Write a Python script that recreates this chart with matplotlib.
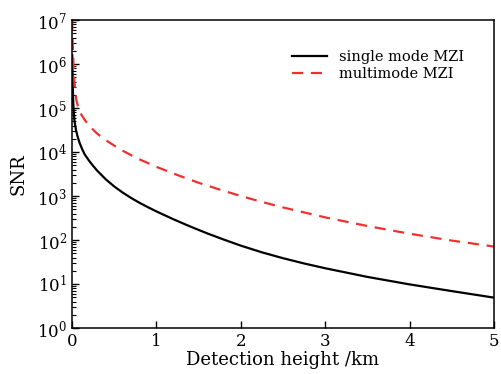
import matplotlib
matplotlib.use('Agg')
import matplotlib.pyplot as plt
from matplotlib.ticker import LogLocator, NullFormatter

plt.rcParams['font.family'] = 'DejaVu Serif'
plt.rcParams['mathtext.fontset'] = 'dejavuserif'

# single mode MZI
single_h = [0.003, 0.006, 0.01, 0.015, 0.02, 0.03, 0.04, 0.05, 0.07, 0.09, 0.12, 0.15,
            0.2, 0.25, 0.3, 0.4, 0.5, 0.6, 0.7, 0.8, 0.9, 1.0, 1.2, 1.4, 1.6, 1.8,
            2.0, 2.25, 2.5, 2.75, 3.0, 3.5, 4.0, 4.5, 5.0]
single_snr = [1.58e6, 7.1e5, 2.8e5, 1.32e5, 8.5e4, 5.1e4, 3.8e4, 3.0e4, 2.14e4, 1.62e4,
              1.17e4, 8870, 6430, 4850, 3740, 2400, 1650, 1200, 904, 701, 556, 447,
              297, 203, 142, 102, 74.5, 52.5, 38.6, 29.3, 22.8, 14.5, 9.8, 6.9, 4.9]

# multimode MZI
multi_h = [0.002, 0.005, 0.01, 0.02, 0.035, 0.05, 0.07, 0.1, 0.15, 0.2, 0.3, 0.4, 0.5,
           0.6, 0.7, 0.8, 0.9, 1.0, 1.25, 1.5, 1.75, 2.0, 2.25, 2.5, 3.0, 3.5, 4.0,
           4.5, 5.0]
multi_snr = [1.0e7, 5.6e6, 2.5e6, 7.1e5, 2.8e5, 1.58e5, 1.07e5, 7.6e4, 5.4e4, 4.0e4,
             2.6e4, 1.86e4, 1.4e4, 1.07e4, 8.5e3, 6.8e3, 5.6e3, 4.6e3, 2.99e3, 2.0e3,
             1.4e3, 1.0e3, 733, 550, 327, 208, 139, 97, 71]

fig = plt.figure(figsize=(5.02, 3.74), dpi=100)
ax = fig.add_axes([0.1434, 0.123, 0.8406, 0.8235])

ax.plot(single_h, single_snr, color='black', lw=1.6, label='single mode MZI')
ax.plot(multi_h, multi_snr, color='#f03030', lw=1.6, ls=(0, (5, 3.5)), label='multimode MZI')

ax.set_yscale('log')
ax.set_xlim(0, 5)
ax.set_ylim(1, 1e7)
ax.set_xticks([0, 1, 2, 3, 4, 5])
ax.yaxis.set_major_locator(LogLocator(base=10, numticks=10))
ax.yaxis.set_minor_locator(LogLocator(base=10, subs=range(2, 10), numticks=100))
ax.yaxis.set_minor_formatter(NullFormatter())
ax.tick_params(which='both', direction='in', top=False, right=False, labelsize=12)
ax.tick_params(which='major', length=5, width=1)
ax.tick_params(which='minor', length=3, width=0.8)
for s in ax.spines.values():
    s.set_linewidth(1.1)

ax.set_xlabel('Detection height /km', fontsize=13, labelpad=1)
ax.set_ylabel('SNR', fontsize=13, labelpad=7)

ax.legend(loc='upper right', frameon=False, fontsize=10.5, handlelength=2.4,
          bbox_to_anchor=(0.96, 0.945), labelspacing=0.2)

fig.savefig('out.png', dpi=100)
